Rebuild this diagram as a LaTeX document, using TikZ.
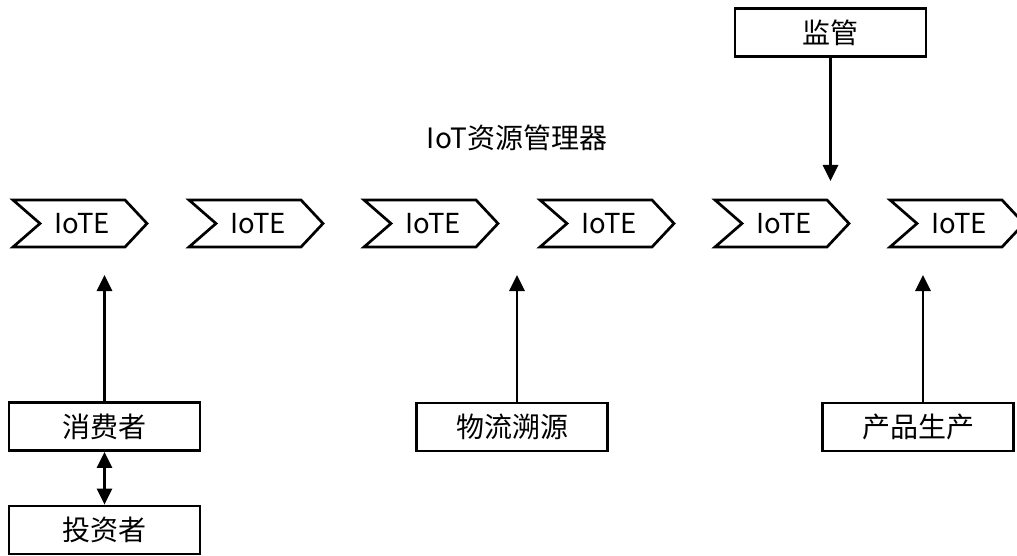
\documentclass[tikz,border=0pt]{standalone}
\usepackage{fontspec}
\setmainfont{Noto Sans CJK SC}
\usetikzlibrary{arrows.meta}
\tikzset{
  chev/.style={draw=black, line width=2.7pt, fill=white},
  lbl/.style={inner sep=0pt, font=\fontsize{27.5}{32}\selectfont},
  actor/.style={draw=black, line width=2.7pt, minimum width=191pt, minimum height=48pt, inner sep=0pt, font=\fontsize{28}{32}\selectfont},
  arr/.style={line width=2.7pt, -{Triangle[length=16pt,width=15pt]}},
  darr/.style={line width=2.7pt, {Triangle[length=16pt,width=15pt]}-{Triangle[length=16pt,width=15pt]}},
}
\begin{document}
\begin{tikzpicture}[x=1pt,y=-1pt]
\useasboundingbox (0,0) rectangle (1017,556);
\foreach \i/\x in {1/13,2/189,3/364,4/540,5/715,6/890}{
  \draw[chev] (\x,200) -- (\x+112,200) -- (\x+134,223.5) -- (\x+112,247) -- (\x,247) -- (\x+27,223.5) -- cycle;
  \node[lbl] (e\i) at (\x+69,224) {IoTE};
}
\node[lbl, font=\fontsize{28}{32}\selectfont] (title) at (517,138) {IoT资源管理器};
\node[actor] (jg) at (830.5,32.5) {监管};
\node[actor] (xf) at (104.5,426.5) {消费者};
\node[actor] (tz) at (104.5,530) {投资者};
\node[actor] (wl) at (512,427) {物流溯源};
\node[actor] (cp) at (918,427) {产品生产};
\coordinate (t5) at (830.5,181);
\coordinate (t1) at (104.5,275);
\coordinate (t3) at (517,275);
\coordinate (t6) at (923,275);
\draw[arr] (jg) -- (t5);
\draw[arr] (xf) -- (t1);
\draw[arr] (wl.north -| t3) -- (t3);
\draw[arr] (cp.north -| t6) -- (t6);
\draw[darr] (xf) -- (tz);
\end{tikzpicture}
\end{document}
